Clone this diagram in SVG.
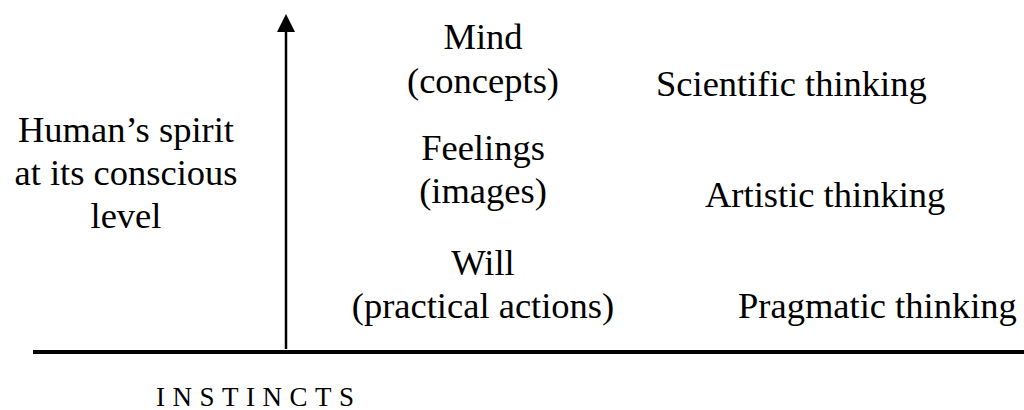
<svg xmlns="http://www.w3.org/2000/svg" width="1024" height="410" viewBox="0 0 1024 410">
  <style>
    text { font-family: "Liberation Serif", "Times New Roman", serif; font-size: 36.5px; fill: #000; }
    .mid { text-anchor: middle; }
    .caps { font-size: 27px; letter-spacing: 7.5px; }
  </style>
  <rect width="1024" height="410" fill="#fff"/>

  <g id="connectors">
    <line id="baseline" x1="33" y1="352" x2="1024" y2="352" stroke="#000" stroke-width="4"/>
    <line id="axis" x1="286" y1="349" x2="286" y2="30" stroke="#000" stroke-width="2.5"/>
    <path id="axis-head" d="M277,32 L286,14 L295,32 Z" fill="#000"/>
  </g>

  <g id="spirit">
    <text class="mid" x="126" y="142">Human’s spirit</text>
    <text class="mid" x="126" y="185">at its conscious</text>
    <text class="mid" x="126" y="228">level</text>
  </g>

  <g id="mind">
    <text class="mid" x="483" y="49">Mind</text>
    <text class="mid" x="483" y="93">(concepts)</text>
  </g>
  <g id="feelings">
    <text class="mid" x="483" y="160">Feelings</text>
    <text class="mid" x="483" y="203">(images)</text>
  </g>
  <g id="will">
    <text class="mid" x="483" y="275">Will</text>
    <text class="mid" x="483" y="318">(practical actions)</text>
  </g>

  <g id="scientific"><text x="656" y="96">Scientific thinking</text></g>
  <g id="artistic"><text x="705" y="207">Artistic thinking</text></g>
  <g id="pragmatic"><text x="738" y="318">Pragmatic thinking</text></g>

  <g id="instincts"><text class="caps" x="156" y="406">INSTINCTS</text></g>
</svg>
